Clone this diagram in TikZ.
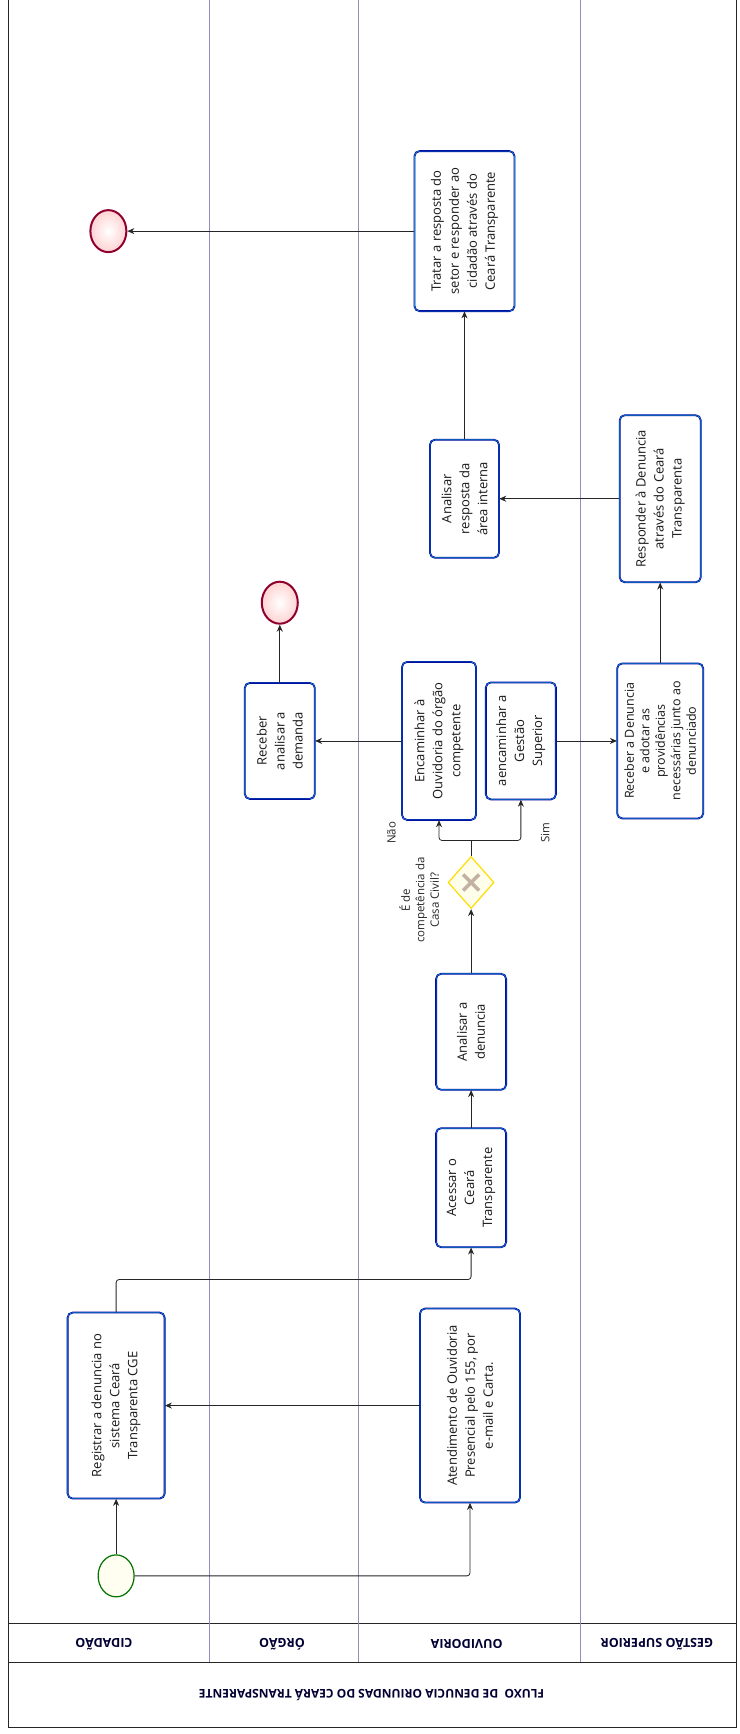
\documentclass[tikz,border=0pt]{standalone}
\usepackage{fontspec}
\setmainfont{Open Sans}
\usetikzlibrary{arrows.meta, shapes.geometric}

\begin{document}
\begin{tikzpicture}[
  x=1.106pt, y=-1.106pt,
  task/.style 2 args={rotate=90, draw=blue!60!black, double=cyan!70!blue, double distance=0.6pt, line width=0.6pt, rounded corners=5pt, fill=white, align=center, inner sep=2pt, text=black!90, font=\fontsize{13}{18}\selectfont, minimum width=#2, minimum height=#1},
  startev/.style={ellipse, draw=green!45!black, line width=1.2pt, fill=yellow!6, minimum width=36pt, minimum height=42pt, inner sep=0pt},
  endev/.style={ellipse, draw=purple!75!black, line width=2pt, inner color=white, outer color=pink!70, minimum width=36pt, minimum height=42pt, inner sep=0pt},
  gateway/.style={diamond, draw=yellow!80!orange, line width=1.2pt, fill=yellow!8, minimum width=46pt, minimum height=52pt, inner sep=0pt,
    path picture={
      \draw[line width=3.5pt, brown!40!gray!60] ([shift={(-8pt,-8pt)}]path picture bounding box.center) -- ([shift={(8pt,8pt)}]path picture bounding box.center);
      \draw[line width=3.5pt, brown!40!gray!60] ([shift={(-8pt,8pt)}]path picture bounding box.center) -- ([shift={(8pt,-8pt)}]path picture bounding box.center);}},
  flow/.style={-{Stealth[length=7pt, width=6pt]}, draw=black!85, line width=0.8pt, rounded corners=3pt},
  lane/.style={draw=blue!25!gray!70, line width=0.6pt},
  lanelabel/.style={rotate=180, font=\bfseries\fontsize{12.5}{14}\selectfont, text=blue!20!black},
  gwlabel/.style={rotate=90, align=center, font=\fontsize{11.5}{14.5}\selectfont, text=black!85}
]
  \useasboundingbox (0,0) rectangle (669,1568);

  % === POOL E RAIAS ===
  \draw[black!85, line width=1pt] (8,0) rectangle (666,1562);
  \draw[black!85, line width=1pt] (8,1468) -- (666,1468);
  \draw[black!85, line width=1pt] (8,1503) -- (666,1503);
  \draw[lane] (189,0) -- (189,1503);
  \draw[lane] (324,0) -- (324,1503);
  \draw[lane] (525,0) -- (525,1503);

  \node[lanelabel] (lcid) at (94,1487) {CIDADÃO};
  \node[lanelabel] (lorg) at (255,1487) {ÓRGÃO};
  \node[lanelabel] (louv) at (422,1487) {OUVIDORIA};
  \node[lanelabel] (lges) at (594,1487) {GESTÃO SUPERIOR};
  \node[lanelabel, font=\bfseries\fontsize{12}{14}\selectfont] (titulo) at (336,1533) {FLUXO \ DE DENUCIA ORIUNDAS DO CEARÁ TRANSPARENTE};

  % === EVENTOS ===
  \node[startev] (inicio) at (105,1425) {};
  \node[endev] (fim1) at (253,545) {};
  \node[endev] (fim2) at (98,209) {};

  % === TAREFAS ===
  \node[task={97pt}{186pt}] (registrar) at (105,1271) {Registrar a denuncia no\\ sistema Ceará\\ Transparenta CGE};
  \node[task={100pt}{194pt}] (atendimento) at (425,1271) {Atendimento de Ouvidoria\\ Presencial pelo 155, por\\ e-mail e Carta.};
  \node[task={70pt}{119pt}] (acessar) at (426,1074) {Acessar o\\ Ceará\\ Transparente};
  \node[task={70pt}{116pt}] (analisar) at (426,933) {Analisar a\\ denuncia};
  \node[gateway] (gw) at (426,798) {};
  \node[task={74pt}{158pt}] (encaminhar) at (397,670) {Encaminhar à\\ Ouvidoria do órgão\\ competente};
  \node[task={70pt}{117pt}] (aencaminhar) at (471,670) {aencaminhar a\\ Gestão\\ Superior};
  \node[task={70pt}{116pt}] (receber) at (253,670) {Receber\\ analisar a\\ demanda};
  \node[task={86pt}{155pt}, font=\fontsize{12.5}{15.5}\selectfont] (recdenuncia) at (597,670) {Receber a Denuncia\\ e adotar as\\ providências\\ necessárias junto ao\\ denunciado};
  \node[task={81pt}{167pt}] (responder) at (597,451) {Responder à Denuncia\\ através do Ceará\\ Transparenta};
  \node[task={69pt}{118pt}] (analresp) at (420,451) {Analisar\\ resposta da\\ área interna};
  \node[task={100pt}{160pt}] (tratar) at (420,209) {Tratar a resposta do\\ setor e responder ao\\ cidadão através do\\ Ceará Transparente};

  % Rótulos do gateway
  \node[gwlabel] (pergunta) at (379,814) {É de\\ competência da\\ Casa Civil?};
  \node[gwlabel] (nao) at (354,753) {Não};
  \node[gwlabel] (sim) at (493,753) {Sim};

  % === FLUXOS ===
  \coordinate (c1) at (105,1157);
  \coordinate (split) at (426,760);
  \draw[flow] (inicio) -- (registrar);
  \draw[flow] (inicio) -| (atendimento);
  \draw[flow] (atendimento) -- (registrar);
  \draw[flow] (registrar) -- (c1) -| (acessar);
  \draw[flow] (acessar) -- (analisar);
  \draw[flow] (analisar) -- (gw);
  \draw[draw=black!85, line width=0.8pt] (gw) -- (split);
  \draw[flow] (split) -| (encaminhar);
  \draw[flow] (split) -| (aencaminhar);
  \draw[flow] (encaminhar) -- (receber);
  \draw[flow] (receber) -- (fim1);
  \draw[flow] (aencaminhar) -- (recdenuncia);
  \draw[flow] (recdenuncia) -- (responder);
  \draw[flow] (responder) -- (analresp);
  \draw[flow] (analresp) -- (tratar);
  \draw[flow] (tratar) -- (fim2);
\end{tikzpicture}
\end{document}
